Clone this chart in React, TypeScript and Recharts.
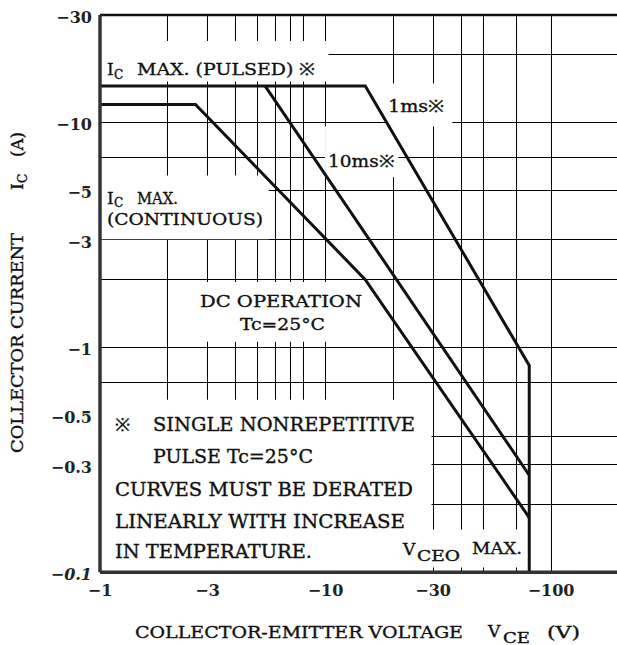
import React from 'react';
import { CartesianGrid, Line, LineChart, ReferenceArea, ReferenceLine, XAxis, YAxis } from 'recharts';

// axis ticks and grid (|VCE| in V, |IC| in A; labels get the minus sign)
const VCE_TICKS = [1, 3, 10, 30, 100];
const IC_TICKS = [30, 10, 5, 3, 1, 0.5, 0.3, 0.1];
const VCE_GRID = [2, 3, 4, 5, 6, 7, 8, 9, 10, 20, 30, 40, 50, 60, 70, 80, 90, 100];
const IC_GRID = [0.2, 0.3, 0.4, 0.6, 0.7, 0.8, 0.9, 1, 2, 3, 4, 5, 6, 7, 8, 9, 10, 20];

// safe operating area curves
const PULSE_1MS_VCE = [1, 15, 80, 80];
const PULSE_1MS_IC = [14.5, 14.5, 0.83, 0.1];
const PULSE_10MS_VCE = [5.4, 80];
const PULSE_10MS_IC = [14.5, 0.27];
const DC_VCE = [1, 2.65, 15, 80];
const DC_IC = [12, 12, 2, 0.175];

const toPoints = (vce: number[], ic: number[]) => vce.map((v, k) => ({ v, i: ic[k] }));

const pulse1ms = toPoints(PULSE_1MS_VCE, PULSE_1MS_IC);
const pulse10ms = toPoints(PULSE_10MS_VCE, PULSE_10MS_IC);
const dcOperation = toPoints(DC_VCE, DC_IC);

// white patches behind the annotations, in axis units
const CLEARINGS = [
  { x1: 1, x2: 10.3, y1: 15.2, y2: 23 },
  { x1: 18.5, x2: 36.5, y1: 9.6, y2: 14.9 },
  { x1: 9.95, x2: 21, y1: 5.7, y2: 9.6 },
  { x1: 1, x2: 5.6, y1: 3.02, y2: 5.8 },
  { x1: 2.5, x2: 15, y1: 1.06, y2: 1.95 },
  { x1: 1, x2: 29.5, y1: 0.1, y2: 0.585 },
  { x1: 29.5, x2: 76, y1: 0.105, y2: 0.155 },
];

const FONT = "'DejaVu Serif', serif";
const INK = '#111';

const YTick = (props: any) => {
  const { x, y, payload } = props;
  return (
    <text x={x - 8} y={y + 8} textAnchor="end" fontFamily={FONT} fontSize={16} fontWeight="bold"
      fontStyle={payload.value === 0.1 ? 'italic' : 'normal'} fill="#222">
      {`−${payload.value}`}
    </text>
  );
};

const XTick = (props: any) => {
  const { x, y, payload } = props;
  return (
    <text x={x} y={y + 24} textAnchor="middle" fontFamily={FONT} fontSize={16} fontWeight="bold" fill="#222">
      {`−${payload.value}`}
    </text>
  );
};

// stretched label so the wide datasheet lettering is matched
const L = ({ x, y, w, size, children }: { x: number; y: number; w?: number; size?: number; children: React.ReactNode }) => (
  <text x={x} y={y} fontSize={size} textLength={w} lengthAdjust={w ? 'spacingAndGlyphs' : undefined}>
    {children}
  </text>
);

function Annotations() {
  const ink = { fontFamily: FONT, fill: INK, stroke: INK, strokeWidth: 0.35, fontSize: 17 };
  return (
    <svg width={617} height={645} style={{ position: 'absolute', left: 0, top: 0, pointerEvents: 'none' }}>
      <g {...ink}>
        <L x={107} y={75}>I</L>
        <L x={114} y={79} size={12}>C</L>
        <L x={137} y={75} w={178}>MAX. (PULSED) ※</L>

        <L x={388} y={112} w={56}>1ms※</L>
        <L x={328} y={167} w={66}>10ms※</L>

        <L x={107} y={204}>I</L>
        <L x={114} y={207} size={12}>C</L>
        <L x={137} y={204} w={41}>MAX.</L>
        <L x={107} y={225} w={156}>(CONTINUOUS)</L>

        <L x={200} y={307} w={162}>DC OPERATION</L>
        <L x={240} y={330} w={85}>Tc=25°C</L>

        <L x={115} y={431} size={18}>※</L>
        <L x={153} y={431} w={262} size={18}>SINGLE NONREPETITIVE</L>
        <L x={153} y={463} w={160} size={18}>PULSE Tc=25°C</L>
        <L x={115} y={496} w={298} size={18}>CURVES MUST BE DERATED</L>
        <L x={115} y={528} w={290} size={18}>LINEARLY WITH INCREASE</L>
        <L x={115} y={558} w={197} size={18}>IN TEMPERATURE.</L>

        <L x={403} y={555}>V</L>
        <L x={417} y={561} w={43} size={14}>CEO</L>
        <L x={472} y={554} w={50}>MAX.</L>
      </g>

      <g {...ink}>
        <L x={135} y={638} w={328}>COLLECTOR-EMITTER VOLTAGE</L>
        <L x={488} y={637}>V</L>
        <L x={503} y={643} w={27} size={14}>CE</L>
        <L x={547} y={638} w={33}>(V)</L>
      </g>

      <g {...ink} transform="translate(23, 453) rotate(-90)">
        <L x={0} y={0} w={220}>COLLECTOR CURRENT</L>
        <L x={263} y={0}>I</L>
        <L x={270} y={4} size={12}>C</L>
        <L x={296} y={0} w={25}>(A)</L>
      </g>
    </svg>
  );
}

export default function App() {
  return (
    <div style={{ position: 'absolute', left: 0, top: 0, width: 617, height: 645, overflow: 'hidden', background: '#fff' }}>
      <LineChart width={625} height={645} margin={{ top: 15, right: 6, bottom: 0, left: 0 }}>
        <CartesianGrid
          horizontalValues={IC_GRID}
          verticalValues={VCE_GRID}
          stroke="#000"
          strokeWidth={1}
          strokeOpacity={1}
          strokeDasharray=""
          shapeRendering="crispEdges"
        />
        <XAxis
          dataKey="v"
          type="number"
          scale="log"
          domain={[1, 200]}
          ticks={VCE_TICKS}
          allowDataOverflow
          height={72.7}
          tickLine={false}
          tickSize={0}
          tickMargin={0}
          tick={<XTick />}
          axisLine={{ stroke: '#333', strokeWidth: 3.5 }}
        />
        <YAxis
          dataKey="i"
          type="number"
          scale="log"
          domain={[0.1, 30]}
          ticks={IC_TICKS}
          allowDataOverflow
          width={100}
          tickLine={false}
          tickSize={0}
          tickMargin={0}
          tick={<YTick />}
          axisLine={{ stroke: '#333', strokeWidth: 3.5 }}
        />
        {CLEARINGS.map((c, k) => (
          <ReferenceArea key={k} x1={c.x1} x2={c.x2} y1={c.y1} y2={c.y2} fill="#fff" fillOpacity={1} stroke="none" />
        ))}
        <ReferenceLine y={30} stroke="#111" strokeWidth={2.5} />
        <Line data={pulse1ms} dataKey="i" stroke="#111" strokeWidth={3} dot={false} isAnimationActive={false} />
        <Line data={pulse10ms} dataKey="i" stroke="#111" strokeWidth={3} dot={false} isAnimationActive={false} />
        <Line data={dcOperation} dataKey="i" stroke="#111" strokeWidth={3} dot={false} isAnimationActive={false} />
      </LineChart>
      <Annotations />
    </div>
  );
}
